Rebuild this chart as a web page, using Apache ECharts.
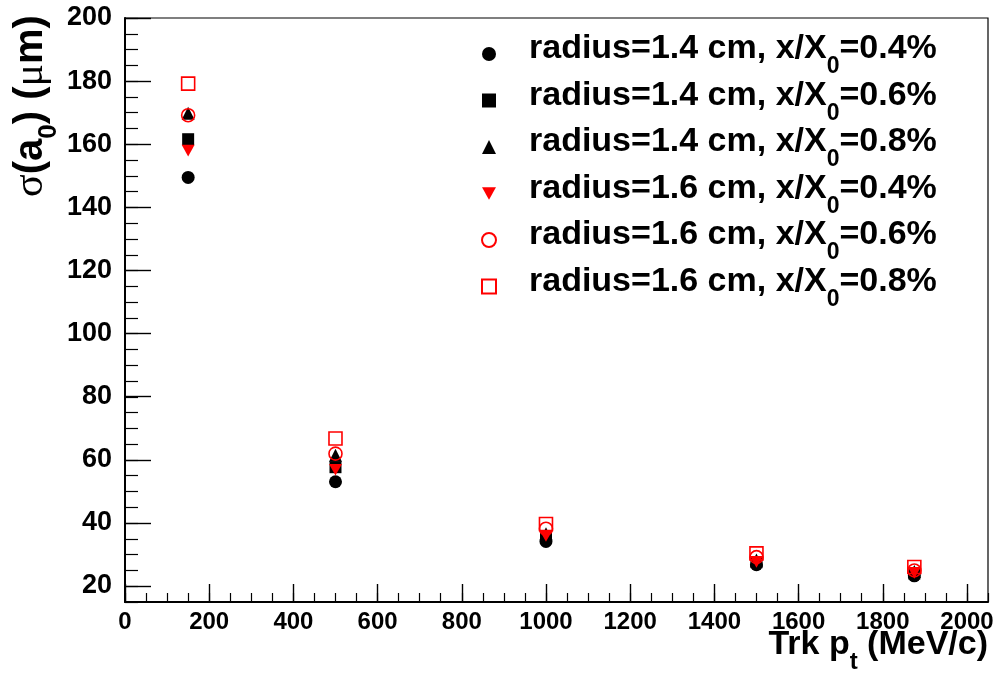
<!DOCTYPE html>
<html>
<head>
<meta charset="utf-8">
<script src="https://cdn.jsdelivr.net/npm/echarts@6/dist/echarts.min.js"></script>
<style>
  html, body { margin: 0; padding: 0; background: #ffffff; }
  #chart { width: 1000px; height: 673px; }
</style>
</head>
<body>
<div id="chart"></div>
<script>
// Track transverse momentum (MeV/c) of the simulated samples
const ptValues = [150, 500, 1000, 1500, 1875];

// Impact-parameter resolution sigma(a0) in micrometres, one list per geometry
const r14x04 = [149.5, 53.1, 34.2, 26.8, 23.3];
const r14x06 = [161.6, 57.7, 35.6, 27.6, 24.0];
const r14x08 = [169.8, 61.5, 36.6, 28.3, 24.7];
const r16x04 = [158.0, 56.9, 35.9, 27.7, 24.2];
const r16x06 = [169.2, 62.0, 38.2, 29.2, 25.0];
const r16x08 = [179.2, 66.8, 39.7, 30.4, 26.1];

const seriesNames = [
  'radius=1.4 cm, x/X0=0.4%',
  'radius=1.4 cm, x/X0=0.6%',
  'radius=1.4 cm, x/X0=0.8%',
  'radius=1.6 cm, x/X0=0.4%',
  'radius=1.6 cm, x/X0=0.6%',
  'radius=1.6 cm, x/X0=0.8%'
];
const seriesValues = [r14x04, r14x06, r14x08, r16x04, r16x06, r16x08];

// Axis ranges
const xRange = [0, 2050];
const yRange = [15, 200];
const xLabelRange = [0, 2000];
const yLabelRange = [20, 200];

// Marker look for each geometry
const RED = '#ff0000';
const TRIANGLE_DOWN = 'path://M0,0 L2,0 L1,1.8 Z';
const markerStyles = [
  { symbol: 'circle',      size: 13, fill: '#000000', stroke: null },
  { symbol: 'rect',        size: 12, fill: '#000000', stroke: null },
  { symbol: 'triangle',    size: 13, fill: '#000000', stroke: null },
  { symbol: TRIANGLE_DOWN, size: 13, fill: RED,       stroke: null },
  { symbol: 'circle',      size: 13, fill: 'rgba(0,0,0,0)', stroke: RED },
  { symbol: 'rect',        size: 13, fill: 'rgba(0,0,0,0)', stroke: RED }
];

const FONT = "'Liberation Sans', Arial, sans-serif";

const series = seriesValues.map(function (vals, i) {
  const st = markerStyles[i];
  return {
    name: seriesNames[i],
    type: 'scatter',
    xAxisIndex: 0,
    yAxisIndex: 0,
    symbol: st.symbol,
    symbolSize: st.size,
    symbolKeepAspect: true,
    z: 10 + i,
    itemStyle: st.stroke
      ? { color: st.fill, borderColor: st.stroke, borderWidth: 1.6, opacity: 1 }
      : { color: st.fill, opacity: 1 },
    emphasis: { disabled: true },
    data: ptValues.map(function (x, j) { return [x, vals[j]]; })
  };
});

const chart = echarts.init(document.getElementById('chart'), null, { renderer: 'canvas' });

chart.setOption({
  animation: false,
  backgroundColor: '#ffffff',
  grid: [
    // frame holding the data (minor ticks)
    { left: 125, right: 12, top: 18, bottom: 71, show: true, borderColor: '#000', borderWidth: 1.2, backgroundColor: 'transparent' },
    // major ticks and labels
    { left: 125, right: 33, top: 18, bottom: 87, show: false }
  ],
  xAxis: [
    {
      type: 'value', gridIndex: 0, min: xRange[0], max: xRange[1], interval: 50,
      axisLine: { show: true, onZero: false, lineStyle: { color: '#000', width: 2 } },
      axisTick: { show: true, inside: true, length: 9, lineStyle: { color: '#000', width: 1.2 } },
      axisLabel: { show: false },
      splitLine: { show: false }
    },
    {
      type: 'value', gridIndex: 1, min: xLabelRange[0], max: xLabelRange[1], interval: 200,
      offset: 16,
      axisLine: { show: false, onZero: false },
      axisTick: { show: true, inside: true, length: 18, lineStyle: { color: '#000', width: 1.4 } },
      axisLabel: {
        show: true, margin: 8, color: '#000', fontFamily: FONT, fontWeight: 'bold', fontSize: 24,
        formatter: function (v) { return String(v); }
      },
      splitLine: { show: false }
    }
  ],
  yAxis: [
    {
      type: 'value', gridIndex: 0, min: yRange[0], max: yRange[1], interval: 5,
      axisLine: { show: true, onZero: false, lineStyle: { color: '#000', width: 2 } },
      axisTick: { show: true, inside: true, length: 13, lineStyle: { color: '#000', width: 1.2 } },
      axisLabel: { show: false },
      splitLine: { show: false }
    },
    {
      type: 'value', gridIndex: 1, min: yLabelRange[0], max: yLabelRange[1], interval: 20,
      axisLine: { show: false, onZero: false },
      axisTick: { show: true, inside: true, length: 26, lineStyle: { color: '#000', width: 1.4 } },
      axisLabel: { show: true, margin: 13, color: '#000', fontFamily: FONT, fontWeight: 'bold', fontSize: 27 },
      splitLine: { show: false }
    }
  ],
  legend: {
    orient: 'vertical',
    left: 481,
    top: 32,
    padding: 0,
    itemGap: 0,
    itemWidth: 14,
    itemHeight: 14,
    selectedMode: false,
    data: seriesNames,
    formatter: function (name) { return name.replace('X0', 'X{sub|0}'); },
    textStyle: {
      color: '#000', fontFamily: FONT, fontWeight: 'bold', fontSize: 34,
      padding: [0, 0, 10, 28],
      rich: {
        sub: { color: '#000', fontFamily: FONT, fontWeight: 'bold', fontSize: 23, padding: [36, 0, 0, 0] }
      }
    }
  },
  graphic: [
    {
      type: 'text', x: 988, y: 645, z: 100,
      style: {
        text: '{b|Trk p}{sub|t}{b| (MeV/c)}',
        align: 'right', verticalAlign: 'middle',
        rich: {
          b: { fontFamily: FONT, fontWeight: 'bold', fontSize: 34, fill: '#000', color: '#000' },
          sub: { fontFamily: FONT, fontWeight: 'bold', fontSize: 24, fill: '#000', color: '#000', padding: [34, 0, 0, 0] }
        }
      }
    },
    {
      type: 'text', x: 31, y: 106, rotation: Math.PI / 2, z: 100,
      style: {
        text: '{s|σ}{b|(a}{sub|0}{b|) (}{s|μ}{b|m)}',
        align: 'center', verticalAlign: 'middle',
        rich: {
          b: { fontFamily: FONT, fontWeight: 'bold', fontSize: 40, fill: '#000', color: '#000' },
          s: { fontFamily: "'Liberation Serif', serif", fontWeight: 'normal', fontSize: 42, fill: '#000', color: '#000' },
          sub: { fontFamily: FONT, fontWeight: 'bold', fontSize: 26, fill: '#000', color: '#000', padding: [36, 0, 0, 0] }
        }
      }
    }
  ],
  series: series
});
</script>
</body>
</html>
